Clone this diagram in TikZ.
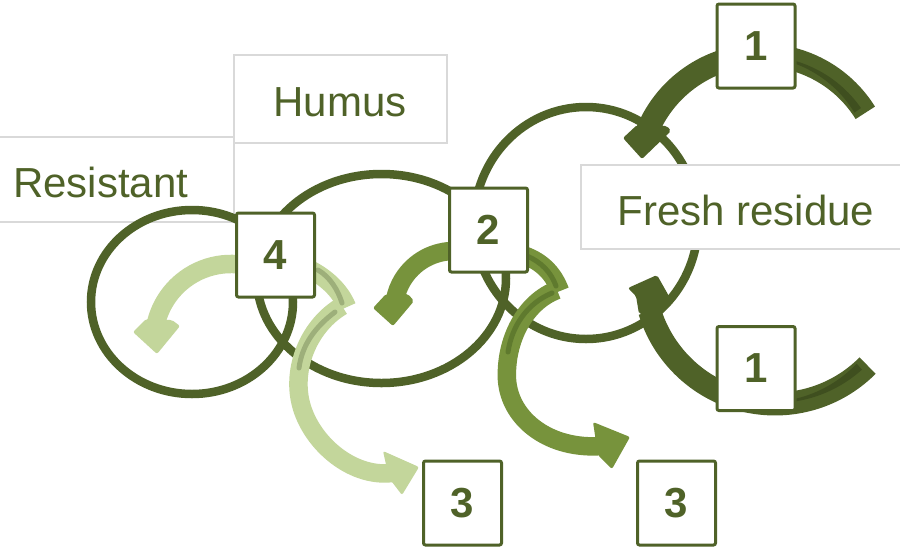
\documentclass[tikz,border=0pt]{standalone}
\usepackage{fontspec}
\setmainfont{Liberation Sans}
\definecolor{olivedk}{HTML}{4F6228}
\definecolor{olivemd}{HTML}{77933C}
\definecolor{olivelt}{HTML}{C3D69B}
\definecolor{stripedk}{HTML}{3F4F1F}
\definecolor{stripemd}{HTML}{5F7A2E}
\definecolor{stripelt}{HTML}{9DAF7A}
\definecolor{boxgray}{HTML}{D9D9D9}
\begin{document}
\begin{tikzpicture}[x=1pt,y=-1pt,
  ring/.style={draw=olivedk, line width=8.5pt},
  lblbox/.style={draw=boxgray, line width=1.2pt, fill=white},
  lbl/.style={text=olivedk, inner sep=0pt, font=\fontsize{42}{50}\selectfont},
  numbox/.style={draw=olivedk, line width=3pt, fill=white, rounded corners=2pt,
    minimum width=78pt, minimum height=84pt, inner sep=0pt, text=olivedk,
    font=\bfseries\fontsize{42}{50}\selectfont},
  bodydk/.style={draw=olivedk, line width=23pt, line cap=butt},
  bodymd/.style={draw=olivemd, line width=18.5pt, line cap=butt},
  bodylt/.style={draw=olivelt, line width=18.5pt, line cap=butt},
  stripe/.style={draw=#1, line width=5pt, line cap=round},
  headdk/.style={fill=olivedk, rounded corners=2pt},
  headmd/.style={fill=olivemd, rounded corners=2pt},
  headlt/.style={fill=olivelt, rounded corners=2pt}
]
\useasboundingbox (0,0) rectangle (900,550);
\fill[white] (0,0) rectangle (900,550);

% label boxes behind the rings
\draw[lblbox] (-5,137) rectangle (234,222);
\draw[lblbox] (234,55) rectangle (447,143);
\node[lbl, anchor=west] (resistant) at (13,182.5) {Resistant};
\node[lbl] (humus) at (340,102) {Humus};

% rings
\draw[ring] (192,302) ellipse [x radius=101, y radius=92];
\draw[ring] (381.5,278.5) ellipse [x radius=124.5, y radius=104.5];
\draw[ring] (586,223) ellipse [x radius=112, y radius=116];

% fresh residue box over the right ring
\draw[lblbox] (581,165) rectangle (910,249);
\node[lbl] (fresh) at (746,210) {Fresh residue};

% named ends of the arrows
\coordinate (a1s) at (865.3,112.8);
\coordinate (b1s) at (867.6,365.6);
\coordinate (a2s) at (474.5,254.6);
\coordinate (a4s) at (257.3,268.6);
\coordinate (h2s) at (520,254);
\coordinate (h2e) at (560,291);
\coordinate (m2s) at (557,290);
\coordinate (m2e) at (602,446);
\coordinate (h4s) at (305,267);
\coordinate (h4e) at (347,307);
\coordinate (m4s) at (342,306);
\coordinate (m4e) at (392,473);

% arrow 1 (top)
\draw[bodydk] (a1s) arc[start angle=-32, end angle=-158, radius=123];
\fill[stripedk] plot[domain=-35:-78, samples=20] ({761+122*cos(\x)},{178+122*sin(\x)})
   -- plot[domain=-78:-35, samples=20] ({761+(120-6*(\x+78)/43)*cos(\x)},{178+(120-6*(\x+78)/43)*sin(\x)}) -- cycle;
\fill[headdk] (623,138) -- (637,125) -- (667,126) -- (671,131) -- (642,159) -- cycle;

% arrow 1 (bottom)
\draw[bodydk] (b1s) arc[start angle=45, end angle=163, radius=131];
\fill[stripedk] plot[domain=48:84, samples=20] ({775+130*cos(\x)},{273+130*sin(\x)})
   -- plot[domain=84:48, samples=20] ({775+(128-6*(84-\x)/36)*cos(\x)},{273+(128-6*(84-\x)/36)*sin(\x)}) -- cycle;
\fill[headdk] (628,288) -- (657,275) -- (670,298) -- (662,313) -- (639,314) -- (636,296) -- cycle;

% arrow 2 (back into humus)
\draw[bodymd] (a2s) arc[start angle=-70, end angle=-168, radius=60];
\fill[headmd] (373,308) -- (386,294) -- (408,294) -- (414,301) -- (393,326) -- cycle;

% arrow 2 to 3
\draw[bodymd] (h2s) .. controls (540,260) and (553,272) .. (h2e);
\draw[bodymd] (m2s) .. controls (525,302) and (505,340) .. (507,380)
               .. controls (510,420) and (550,450) .. (m2e);
\draw[stripe=stripemd] (527,256) .. controls (541,262) and (551,272) .. (556,286);
\draw[stripe=stripemd] (552,293) .. controls (528,303) and (512,325) .. (508,352);
\fill[headmd] (593,422) -- (630,437) -- (612,469) -- (598,455) -- cycle;

% arrow 4 (back into resistant)
\draw[bodylt] (a4s) arc[start angle=-70, end angle=-168, radius=77];
\fill[headlt] (133,332) -- (146,319) -- (172,320) -- (180,326) -- (157,354) -- cycle;

% arrow 4 to 3
\draw[bodylt] (h4s) .. controls (325,276) and (340,290) .. (h4e);
\draw[bodylt] (m4s) .. controls (310,325) and (293,365) .. (300,400)
               .. controls (308,440) and (350,478) .. (m4e);
\draw[stripe=stripelt] (318,270) .. controls (330,277) and (338,290) .. (342,303);
\draw[stripe=stripelt] (335,312) .. controls (315,327) and (302,345) .. (299,368);
\fill[headlt] (383,451) -- (419,467) -- (402,495) -- (389,478) -- cycle;

% number boxes
\node[numbox] (n1t) at (756,46) {1};
\node[numbox] (n1b) at (756,368.5) {1};
\node[numbox] (n2) at (488.5,230) {2};
\node[numbox] (n4) at (275.5,255) {4};
\node[numbox] (n3l) at (462.5,503) {3};
\node[numbox] (n3r) at (676.5,503) {3};
\end{tikzpicture}
\end{document}
